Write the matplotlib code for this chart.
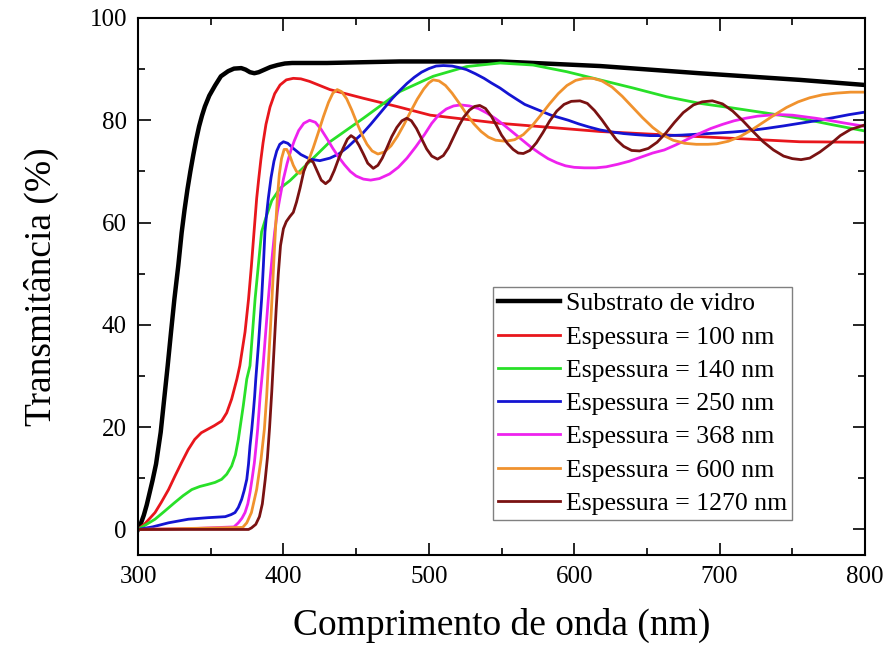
import numpy as np
import matplotlib
import matplotlib.pyplot as plt
from matplotlib.ticker import MultipleLocator

matplotlib.use('Agg')

plt.rcParams['font.family'] = ['Liberation Serif', 'DejaVu Serif']

# Substrato de vidro
wl_glass = [300, 302, 304, 306, 308, 310, 312.4, 315.6, 318, 320.4, 322.7, 325, 327.7, 330,
            332, 334, 336, 338, 340, 342, 344, 346, 349, 353, 357, 362, 366, 371, 374, 377,
            380, 383, 387, 391, 396, 401, 406, 430, 480, 549, 618, 686, 755, 800]
t_glass = [0, 1.2, 2.8, 4.8, 7.2, 9.6, 12.8, 19, 25.5, 32, 38.6, 45, 51.6, 58,
           62.5, 66.5, 70, 73.2, 76.2, 78.8, 80.9, 82.7, 84.8, 86.8, 88.6, 89.6, 90.1, 90.2, 89.9, 89.4,
           89.2, 89.4, 89.9, 90.4, 90.8, 91.1, 91.2, 91.2, 91.5, 91.5, 90.6, 89.2, 87.9, 86.9]

# 100 nm
wl_100 = [300, 305, 311.7, 316, 321, 325.5, 330, 334.5, 339, 343.5, 348, 352.5, 357.5, 361,
          364.4, 368, 370, 373.6, 376, 378, 379.8, 381.6, 383, 384.5, 386, 388, 390.8, 394,
          397.7, 402, 406.8, 412, 418, 432, 455, 478, 501, 549, 618, 686, 755, 800]
t_100 = [0, 1.2, 3.3, 5.3, 7.8, 10.5, 13.1, 15.6, 17.6, 18.9, 19.6, 20.3, 21.2, 22.8,
         25.5, 29.4, 32, 38.6, 45, 51.6, 58.2, 64.7, 68.5, 72.3, 75.6, 79.2, 82.6, 85.2,
         86.9, 87.9, 88.2, 88.1, 87.6, 86, 84.3, 82.7, 81, 79.4, 77.8, 76.8, 75.8, 75.7]

# 140 nm
wl_140 = [300, 311.7, 318, 325, 331, 337, 342.5, 348, 353, 357.5, 361, 364.4, 367, 369, 372.4,
          374.8, 377, 380.5, 385, 388, 392, 397.7, 404.5, 418, 432, 455, 480, 503, 526, 549,
          571.7, 594.8, 617.7, 640.6, 663.6, 686.5, 709, 732.4, 755, 778, 800]
t_140 = [0, 2, 3.5, 5.2, 6.6, 7.8, 8.4, 8.8, 9.2, 9.8, 10.8, 12.4, 14.6, 17.6, 24.2,
         29.4, 32, 45, 58.2, 61, 64.3, 66.7, 68.2, 71.9, 75.8, 80.4, 85.6, 88.6, 90.5, 91.2,
         90.8, 89.5, 87.9, 86.3, 84.6, 83.3, 82.4, 81.4, 80.4, 79.1, 77.9]

# 250 nm
wl_250 = [300, 310, 321, 334.6, 348, 360, 364, 366.7, 369, 371.3, 373, 374.8, 376, 377, 378.2,
          379.3, 380.2, 381, 382.8, 384, 385, 386.2, 387.3, 388.5, 389.6, 391.5, 393.5, 395.4,
          397.5, 400, 403, 406.8, 412, 418.3, 425, 432, 438, 444, 450, 455, 460, 465, 470,
          475, 480, 485, 490, 495, 500, 505, 510, 516, 521, 526, 532, 538, 543, 549, 555,
          561, 566, 572, 578, 584, 590, 596, 603, 610, 618, 626, 634, 642, 652, 663, 674,
          686, 698, 709, 721, 732, 744, 755, 766, 778, 789, 800]
t_250 = [0, 0.5, 1.3, 2, 2.3, 2.5, 2.9, 3.3, 4.3, 5.9, 7.6, 9.8, 12.8, 16.3, 19.5,
         22.9, 26, 29.4, 36, 41, 45, 51.5, 58.2, 61.8, 64.7, 68.8, 72, 74,
         75.3, 75.8, 75.5, 74.5, 73.3, 72.4, 72.1, 72.6, 73.4, 74.7, 76.3, 77.6, 79.2, 80.9, 82.6,
         84.3, 85.8, 87.2, 88.4, 89.4, 90.1, 90.6, 90.7, 90.6, 90.3, 89.9, 89.1, 88.2, 87.3, 86.3, 85.1,
         84, 83.1, 82.4, 81.7, 81, 80.5, 80, 79.3, 78.7, 78.1, 77.7, 77.4, 77.2, 77, 77, 77.1,
         77.3, 77.5, 77.7, 78, 78.4, 78.9, 79.4, 79.9, 80.5, 81.1, 81.6]

# 368 nm
wl_368 = [300, 340, 366, 369, 371.5, 373.6, 375.5, 377, 378.5, 380, 381.2, 382.3, 383.2, 384,
          385, 386, 387.8, 389.6, 391, 392.5, 394, 395.8, 397.7, 400, 402.5, 405, 407.5, 410.5,
          414, 418, 422, 426, 430, 434, 438, 442, 446, 450, 455, 460, 466, 473, 479, 485, 491,
          497, 502, 507, 512, 517, 522, 528, 534, 540, 546, 552, 558, 564, 570, 576, 582, 588,
          594, 600, 607, 615, 622, 630, 638, 646, 654, 662, 670, 678, 686, 694, 702, 710, 718,
          726, 734, 742, 750, 758, 766, 775, 785, 800]
t_368 = [0, 0.2, 0.5, 1.3, 2.2, 3.3, 5, 7.2, 10, 13, 16.3, 19.6, 23, 26.1,
         29, 32, 38.5, 45, 49.5, 54, 58.2, 62, 65, 68.5, 71.5, 74, 76, 78,
         79.4, 80, 79.6, 78.2, 76.4, 74.5, 72.8, 71.3, 70, 69.1, 68.5, 68.3, 68.6, 69.5, 70.8, 72.6, 74.8,
         77.2, 79.4, 81.1, 82.2, 82.8, 83, 82.8, 82.3, 81.4, 80.3, 79, 77.6, 76.2, 74.8, 73.6, 72.5, 71.7,
         71.1, 70.8, 70.7, 70.7, 70.9, 71.4, 72, 72.8, 73.6, 74.2, 75.2, 76.3, 77.4, 78.4, 79.2, 79.9, 80.4,
         80.8, 81, 81.1, 81, 80.7, 80.4, 80, 79.5, 78.8]

# 600 nm
wl_600 = [300, 372, 374.8, 378, 381.6, 384.6, 386.9, 388.5, 389.6, 391, 392.3, 393.5, 394.6,
          395.8, 397.2, 398.7, 400.5, 402.3, 404.5, 406.8, 409, 411.4, 414, 417, 420.5, 424,
          427.5, 431, 434, 437, 440, 443.5, 447, 450.5, 454, 457.5, 461, 465, 469.5, 474, 478.5,
          483, 487.5, 492, 496.5, 500, 503, 507, 511.5, 516, 521, 526, 531, 536, 541, 546, 553,
          559, 565, 571, 577, 583, 589, 595, 601, 607, 613, 619, 626, 633, 640, 647, 654, 661,
          668, 676, 684, 692, 698, 706, 714, 722, 730, 738, 746, 754, 762, 771, 780, 790, 800]
t_600 = [0, 0.4, 1.3, 3.3, 7.8, 13.7, 19.6, 26.1, 32, 39, 46, 53, 59,
         64.7, 69.5, 72.5, 74.3, 74.3, 73, 71.2, 70, 69.6, 70.3, 71.9, 74.6, 77.6,
         80.7, 83.5, 85.3, 86, 85.6, 84.2, 82, 79.5, 77.2, 75.3, 74, 73.4, 73.8, 75, 76.9,
         79.2, 81.7, 84.1, 86.1, 87.3, 87.9, 87.7, 86.8, 85.3, 83.3, 81.2, 79.3, 77.8, 76.7, 76.1, 75.9,
         76.2, 77.2, 78.9, 81, 83.2, 85.2, 86.8, 87.8, 88.2, 88.2, 87.7, 86.5, 84.7, 82.6, 80.5, 78.6, 77.1,
         76.1, 75.5, 75.3, 75.3, 75.4, 75.9, 76.8, 78.1, 79.6, 81.1, 82.5, 83.6, 84.4, 85, 85.3, 85.5, 85.5]

# 1270 nm
wl_1270 = [300, 376, 378, 381, 383.5, 385.5, 387.5, 389, 390.5, 392, 393.5, 395, 396.5, 398,
           400, 402, 404.5, 406.8, 409, 411.4, 414, 416, 418.3, 420.5, 423, 426, 429, 432, 435,
           438, 441, 444, 446.5, 449, 452, 455, 458, 461.8, 465, 468, 471, 474.5, 478, 481.5,
           484.8, 488, 491.5, 495, 498.5, 502, 506, 510, 513.5, 517, 520.5, 524, 528, 531.5, 535,
           539, 543, 546.5, 550, 554, 558, 561.5, 565, 569.5, 574, 578.5, 583, 588, 593, 598,
           604, 609, 614, 619, 624, 629, 634, 639.5, 645, 651, 657, 663, 669, 675, 682, 688,
           695, 702, 709, 716, 723, 730, 737, 744, 750, 756, 762, 769, 776, 783, 790, 800]
t_1270 = [0, 0, 0.3, 1, 2.5, 5, 9.8, 14, 20, 27, 35, 43, 50, 55.5,
          58.8, 60.2, 61.2, 62, 64, 66.7, 70, 71.5, 72.2, 71.8, 70.2, 68.3, 67.6, 68.3, 70.2,
          72.5, 74.5, 76.3, 77, 76.5, 75.1, 73.4, 71.6, 70.6, 71.2, 72.6, 74.5, 76.8, 78.6, 79.9,
          80.4, 79.9, 78.4, 76.4, 74.4, 73, 72.4, 73.1, 74.6, 76.7, 78.8, 80.6, 82, 82.7, 82.9,
          82.3, 80.8, 79, 77.1, 75.5, 74.3, 73.6, 73.5, 74.1, 75.6, 77.6, 79.8, 81.8, 83.1, 83.7,
          83.8, 83.3, 81.9, 80.1, 78.1, 76.2, 74.9, 74.1, 74, 74.5, 75.7, 77.5, 79.6, 81.5, 83, 83.6,
          83.8, 83.2, 81.8, 79.9, 77.8, 75.8, 74.2, 73, 72.5, 72.3, 72.6, 73.8, 75.3, 77, 78.2, 79.1]

series = [
    (wl_glass, t_glass, 'Substrato de vidro', '#000000', 3.2),
    (wl_100, t_100, 'Espessura = 100 nm', '#e8161c', 2.0),
    (wl_140, t_140, 'Espessura = 140 nm', '#28e028', 2.0),
    (wl_250, t_250, 'Espessura = 250 nm', '#1414d2', 2.0),
    (wl_368, t_368, 'Espessura = 368 nm', '#ee22ee', 2.0),
    (wl_600, t_600, 'Espessura = 600 nm', '#f0922e', 2.0),
    (wl_1270, t_1270, 'Espessura = 1270 nm', '#7a1212', 2.0),
]

fig = plt.figure(figsize=(8.87, 6.49), dpi=100)
ax = fig.add_axes([0.1556, 0.1448, 0.8196, 0.8275])

for wl, t, label, color, lw in series:
    ax.plot(wl, t, color=color, lw=lw, label=label, solid_joinstyle='round')

ax.set_xlim(300, 800)
ax.set_ylim(-5, 100)
ax.xaxis.set_major_locator(MultipleLocator(100))
ax.xaxis.set_minor_locator(MultipleLocator(50))
ax.yaxis.set_major_locator(MultipleLocator(20))
ax.yaxis.set_minor_locator(MultipleLocator(10))
ax.tick_params(which='both', direction='in', top=True, right=True, width=1.2, labelsize=18)
ax.tick_params(which='major', length=9, pad=8)
ax.tick_params(which='minor', length=5)
for s in ax.spines.values():
    s.set_linewidth(1.5)

ax.set_xlabel('Comprimento de onda (nm)', fontsize=27, labelpad=14)
ax.set_ylabel('Transmitância (%)', fontsize=27, labelpad=22)

leg = ax.legend(loc='lower left', bbox_to_anchor=(0.488, 0.065), borderaxespad=0,
                fontsize=18.5, handlelength=2.4, handletextpad=0.25, labelspacing=0.4,
                borderpad=0.2, fancybox=False, framealpha=1, edgecolor='#808080')
leg.get_frame().set_linewidth(1.0)

fig.savefig('out.png', dpi=100)
